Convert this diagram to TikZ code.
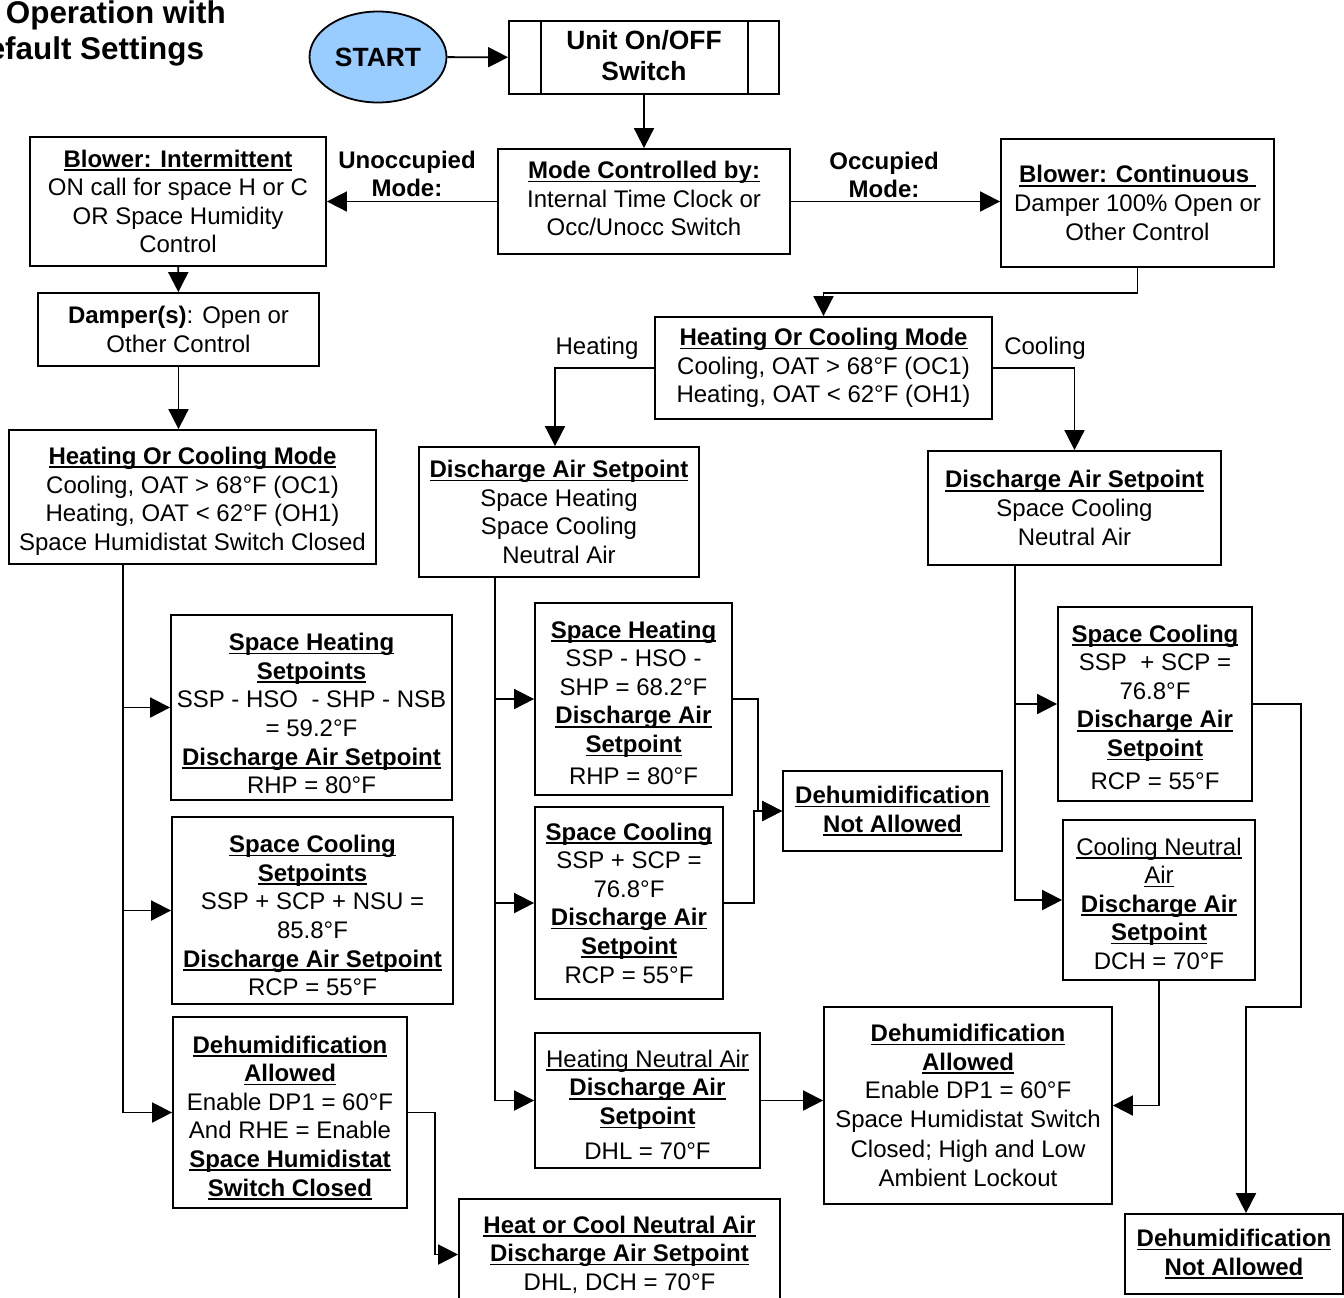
\documentclass[tikz,border=0pt]{standalone}
\usepackage{fontspec}
\setmainfont{Liberation Sans}
\usepackage{tikz}
\usetikzlibrary{
	arrows.meta,
	shapes,
}
\definecolor{startblue}{rgb}{0.6, 0.8, 1.0}
\newsavebox{\ulbox}
\newcommand{\uln}[1]{\sbox{\ulbox}{#1}\rlap{\rule[-1.8pt]{\wd\ulbox}{0.8pt}}\usebox{\ulbox}}
\newcommand{\ulb}[1]{\uln{\textbf{#1}}}
\newcommand{\dn}[1]{\rule{0pt}{#1}}
\newcommand{\upl}[1]{\rule[-#1]{0pt}{0pt}}
\tikzset{sz/.style 2 args={minimum width=#1*0.5pt, minimum height=#2*0.5pt}}

\begin{document}
\begin{tikzpicture}[x=0.5pt, y=-0.5pt, line width=0.9pt,
	font=\fontsize{12}{14.3}\selectfont,
	blk/.style={draw, rectangle, align=center, inner sep=0pt},
	lbl/.style={align=center, inner sep=0pt},
	arr/.style={-{Triangle[length=10pt, width=10pt]}}]
% page
\path[use as bounding box, fill=white] (0,0) rectangle (1344,1297);
% title
\node[anchor=base west, inner sep=0pt, font=\fontsize{15.7}{18}\selectfont\bfseries] (title1) at (5,23) {Operation with};
\node[anchor=base east, inner sep=0pt, font=\fontsize{15.7}{18}\selectfont\bfseries] (title2) at (205,59) {Default Settings};
% start and switch
\node[ellipse, draw, fill=startblue, inner sep=0pt, sz={137}{91}, font=\fontsize{13.2}{15}\selectfont\bfseries] (start) at (378,57) {START};
\node[blk, sz={270}{73}, font=\fontsize{13.2}{15.5}\selectfont\bfseries] (unit) at (644,57.5) {Unit On/OFF\\Switch\upl{2.2pt}};
\draw ([xshift=16.5pt]unit.north west) -- ([xshift=16.5pt]unit.south west);
\draw ([xshift=-16pt]unit.north east) -- ([xshift=-16pt]unit.south east);
% mode
\node[blk, sz={292}{105}] (mode) at (644,201.5) {\ulb{Mode Controlled by:}\\Internal Time Clock or\\Occ/Unocc Switch\upl{3pt}};
\node[lbl, font=\fontsize{12}{14}\selectfont\bfseries] (unocc) at (407,174) {Unoccupied\\Mode:};
\node[lbl, font=\fontsize{12}{14}\selectfont\bfseries] (occ) at (884,175) {Occupied\\Mode:};
% unoccupied side
\node[blk, sz={296}{129}] (blowI) at (178,201.5) {\ulb{Blower: Intermittent}\\ON call for space H or C\\OR Space Humidity\\Control};
\node[blk, sz={281}{73}] (damp) at (178.5,329.5) {\textbf{Damper(s)}: Open or\\Other Control};
\node[blk, sz={367}{134}] (hcmL) at (192.5,497) {\dn{12.8pt}\ulb{Heating Or Cooling Mode}\\Cooling, OAT > 68°F (OC1)\\Heating, OAT < 62°F (OH1)\\Space Humidistat Switch Closed};
\node[blk, sz={281}{185}] (shL) at (311.5,707.5) {\dn{14.8pt}\ulb{Space Heating}\\\ulb{Setpoints}\\SSP - HSO\ \ - SHP - NSB\\= 59.2°F\\\ulb{Discharge Air Setpoint}\\RHP = 80°F};
\node[blk, sz={281}{187}] (scL) at (312.5,910.5) {\dn{13.8pt}\ulb{Space Cooling}\\\ulb{Setpoints}\\SSP + SCP + NSU =\\85.8°F\\\ulb{Discharge Air Setpoint}\\RCP = 55°F};
\node[blk, sz={234}{191}] (da1) at (290,1112.5) {\dn{13.8pt}\ulb{Dehumidification}\\\ulb{Allowed}\\Enable DP1 = 60°F\\And RHE = Enable\\\ulb{Space Humidistat}\\\ulb{Switch Closed}};
\node[blk, sz={321}{111}] (hcna) at (619.5,1254.5) {\ulb{Heat or Cool Neutral Air}\\\ulb{Discharge Air Setpoint}\\DHL, DCH = 70°F};
% occupied side
\node[blk, sz={273}{128}] (blowC) at (1137.5,203) {\ulb{Blower: Continuous~}\\Damper 100\% Open or\\Other Control};
\node[blk, sz={337}{102}] (hcmM) at (823.5,368) {\ulb{Heating Or Cooling Mode}\\Cooling, OAT > 68°F (OC1)\\Heating, OAT < 62°F (OH1)};
\node[lbl] (heat) at (597,348) {Heating};
\node[lbl] (cool) at (1045,348) {Cooling};
% heating column
\node[blk, sz={280}{130}] (dasM) at (559,512) {\ulb{Discharge Air Setpoint}\\Space Heating\\Space Cooling\\Neutral Air};
\node[blk, sz={197}{192}] (shM) at (633.5,699) {\dn{12.3pt}\ulb{Space Heating}\\SSP - HSO -\\SHP = 68.2°F\\\ulb{Discharge Air}\\\ulb{Setpoint}\\[1.5pt]RHP = 80°F};
\node[blk, sz={188}{192}] (scM) at (629,903) {\ulb{Space Cooling}\\SSP + SCP =\\76.8°F\\\ulb{Discharge Air}\\\ulb{Setpoint}\\RCP = 55°F};
\node[blk, sz={219}{80}] (dna1) at (892.5,811) {\ulb{Dehumidification}\\\ulb{Not Allowed}};
\node[blk, sz={225}{135}] (hna) at (647.5,1100.5) {\dn{12.8pt}\uln{Heating Neutral Air}\\\ulb{Discharge Air}\\\ulb{Setpoint}\\[3pt]DHL = 70°F};
% cooling column
\node[blk, sz={293}{114}] (dasR) at (1074.5,508) {\ulb{Discharge Air Setpoint}\\Space Cooling\\Neutral Air};
\node[blk, sz={194}{194}] (scR) at (1155,704) {\dn{11.8pt}\ulb{Space Cooling}\\SSP\ \ + SCP =\\76.8°F\\\ulb{Discharge Air}\\\ulb{Setpoint}\\[2pt]RCP = 55°F};
\node[blk, sz={192}{160}] (cna) at (1159,900) {\dn{12.3pt}\uln{Cooling Neutral}\\\uln{Air}\\\ulb{Discharge Air}\\\ulb{Setpoint}\\DCH = 70°F};
\node[blk, sz={288}{197}] (da2) at (968,1105.5) {\ulb{Dehumidification}\\\ulb{Allowed}\\Enable DP1 = 60°F\\Space Humidistat Switch\\[1pt]Closed; High and Low\\Ambient Lockout};
\node[blk, sz={218}{80}] (dna2) at (1234,1254) {\ulb{Dehumidification}\\\ulb{Not Allowed}};

% top connectors
\draw[arr] (start) -- (unit);
\draw[arr] (unit) -- (mode);
\draw[arr] (mode) -- (blowI);
\draw[arr] (mode.east) -- (mode.east -| blowC.west);
\draw[arr] (blowI) -- (damp);
\draw[arr] (damp.south) -- (damp.south |- hcmL.north);
\draw[arr] (blowC.south) -- ++(0,25) -| (hcmM.north);
\draw[arr] (hcmM.west) -| ([xshift=-2pt]dasM.north);
\draw[arr] (hcmM.east) -| (dasR.north);
% trunks
\coordinate (tL) at ([xshift=57.5pt]hcmL.south west);
\coordinate (tM) at ([xshift=38.5pt]dasM.south west);
\coordinate (tR) at ([xshift=44pt]dasR.south west);
\draw[arr] (tL) |- (shL.west);
\draw[arr] (tL) |- (scL.west);
\draw[arr] (tL) |- (da1.west);
\draw[arr] (tM) |- (shM.west);
\draw[arr] (tM) |- (scM.west);
\draw[arr] (tM) |- (hna.west);
\draw[arr] (tR) |- (scR.west);
\draw[arr] (tR) |- (cna.west);
% dehumidification
\draw[arr] (da1.east) -- ++(27,0) |- (hcna.west);
\draw[arr] (shM.east) -- ++(25,0) |- (dna1.west);
\draw[arr] (scM.east) -- ++(30,0) |- (dna1.west);
\draw[arr] (hna.east) -- (hna.east -| da2.west);
\draw[arr] (cna.south) |- (da2.east);
\draw[arr] (scR.east) -- ++(48,0) -- ++(0,303) -| ([xshift=6pt]dna2.north);
\end{tikzpicture}
\end{document}
